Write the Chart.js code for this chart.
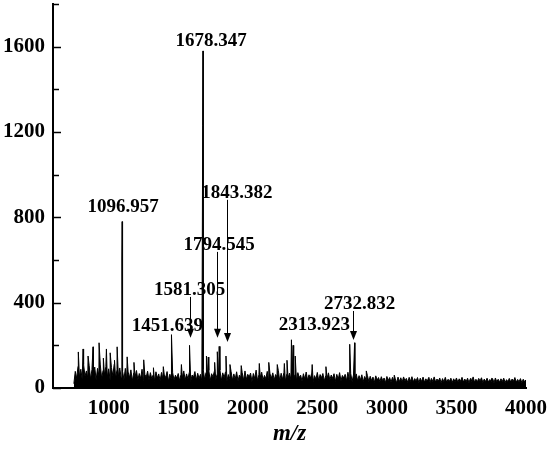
<!DOCTYPE html>
<html>
<head>
<meta charset="utf-8">
<script src="https://cdn.jsdelivr.net/npm/chart.js@4"></script>
<style>
  html, body { margin: 0; padding: 0; background: #fff; }
  #wrap { width: 550px; height: 454px; }
</style>
</head>
<body>
<div id="wrap"><canvas id="spectrum"></canvas></div>
<script>
// baseline noise, every 10 m/z from 750 to 4000
const noiseStartMz = 750;
const noiseStepMz = 10;
const noise = [
  // 750 - 1090
  20, 78, 45, 102, 52, 88, 40, 110, 55, 80,
  48, 105, 42, 86, 60, 98, 38, 92, 57, 108,
  44, 83, 62, 100, 50, 90, 41, 96, 58, 112,
  46, 85, 53, 94, 47,
  // 1100 - 1490
  78, 40, 92, 36, 75, 48, 85, 33, 70, 52,
  82, 38, 68, 45, 88, 34, 64, 50, 79, 37,
  72, 43, 62, 31, 76, 47, 66, 35, 73, 42,
  61, 49, 77, 32, 65, 44, 71, 39, 60, 46,
  // 1500 - 1890
  68, 34, 63, 47, 80, 38, 66, 42, 74, 31,
  61, 50, 77, 36, 69, 45, 64, 33, 86, 40,
  73, 48, 82, 35, 67, 52, 79, 39, 65, 44,
  84, 34, 71, 49, 75, 32, 63, 46, 78, 37,
  // 1900 - 2290
  66, 42, 76, 33, 61, 48, 72, 36, 80, 40,
  64, 51, 70, 31, 68, 45, 84, 35, 62, 49,
  74, 38, 59, 43, 78, 34, 66, 47, 71, 37,
  63, 52, 81, 34, 69, 41, 73, 32, 65, 46,
  // 2300 - 2690
  70, 39, 77, 44, 64, 34, 72, 49, 60, 32,
  67, 42, 75, 36, 62, 46, 70, 31, 58, 41,
  73, 35, 63, 48, 68, 33, 57, 43, 71, 38,
  61, 45, 67, 31, 64, 40, 72, 34, 59, 47,
  // 2700 - 3090
  64, 34, 74, 40, 68, 31, 61, 44, 66, 33,
  58, 38, 62, 29, 54, 40, 59, 31, 55, 35,
  51, 26, 57, 37, 49, 29, 53, 34, 47, 25,
  54, 35, 49, 27, 50, 32, 45, 24, 51, 30,
  // 3100 - 3490
  48, 28, 52, 34, 45, 26, 50, 31, 53, 29,
  44, 33, 49, 25, 46, 30, 51, 27, 43, 32,
  48, 26, 45, 31, 52, 28, 42, 33, 47, 24,
  44, 29, 50, 27, 41, 32, 46, 26, 43, 30,
  // 3500 - 4000
  47, 27, 43, 32, 50, 28, 42, 30, 46, 25,
  44, 31, 52, 27, 41, 29, 45, 33, 48, 26,
  42, 30, 46, 28, 40, 32, 44, 25, 47, 29,
  41, 27, 43, 31, 46, 26, 39, 30, 45, 28,
  42, 32, 49, 27, 40, 29, 44, 25, 41, 30, 38
];

// unlabelled spikes standing above the noise
const spikeMz = [
  782, 816, 852, 888, 931, 962, 984, 1011, 1042, 1061, 1095, 1133, 1182, 1252,
  1322, 1393, 1523, 1676, 1703, 1716, 1762, 1781, 1872, 1953, 2083, 2151, 2212,
  2263, 2282, 2326, 2341, 2463, 2562, 2768, 2852, 3053, 3302, 3604, 3752, 3903
];
const spikeIntensity = [
  169, 183, 150, 193, 212, 140, 183, 165, 130, 193, 600, 146, 120, 132,
  95, 100, 110, 1230, 150, 145, 120, 170, 110, 105, 115, 120, 110,
  115, 130, 200, 150, 110, 100, 212, 80, 60, 50, 45, 45, 42
];

// labelled peaks
const peakMz = [1096.957, 1451.639, 1581.305, 1678.347, 1794.545, 1843.382, 2313.923, 2732.832];
const peakIntensity = [780, 250, 200, 1580, 195, 150, 226, 205];
const peakLabels = ["1096.957", "1451.639", "1581.305", "1678.347", "1794.545", "1843.382", "2313.923", "2732.832"];

const xTickValues = [1000, 1500, 2000, 2500, 3000, 3500, 4000];
const yTickValues = [0, 400, 800, 1200, 1600];
const yMinorTicks = [200, 600, 1000, 1400, 1800];

// where each label sits: dx in px from the peak, y in intensity units,
// arrow = [from, to] in intensity units
const labelLayout = [
  { dx: 1, y: 849 },
  { dx: -4, y: 291 },
  { dx: 0, y: 460, arrow: [427, 235], arrowDx: 0 },
  { dx: 8, y: 1624 },
  { dx: 0, y: 671, arrow: [638, 235], arrowDx: -2 },
  { dx: 11, y: 915, arrow: [882, 216], arrowDx: 1 },
  { dx: 23, y: 296 },
  { dx: 10, y: 394, arrow: [361, 225], arrowDx: 3 }
];

// build the trace
const points = noise.map((v, i) => ({ x: noiseStartMz + i * noiseStepMz, y: v }));
spikeMz.forEach((m, i) => points.push({ x: m, y: spikeIntensity[i] }));
peakMz.forEach((m, i) => points.push({ x: m, y: peakIntensity[i] }));
points.sort((a, b) => a.x - b.x);

const serif = '"Liberation Serif", "Times New Roman", serif';

const peakMarks = {
  id: "peakMarks",
  afterDraw(chart) {
    const { ctx, chartArea, scales: { x, y } } = chart;
    ctx.save();
    ctx.strokeStyle = "#000";
    ctx.fillStyle = "#000";

    // y ticks pointing into the plot
    ctx.lineWidth = 1.5;
    const tick = (v, len) => {
      const py = Math.round(y.getPixelForValue(v)) + 0.5;
      ctx.beginPath();
      ctx.moveTo(chartArea.left, py);
      ctx.lineTo(chartArea.left + len, py);
      ctx.stroke();
    };
    yTickValues.forEach(v => tick(v, 8));
    yMinorTicks.forEach(v => tick(v, 6));

    // peak labels and arrows
    ctx.font = "bold 19px " + serif;
    ctx.textAlign = "center";
    ctx.textBaseline = "middle";
    ctx.lineWidth = 1;
    peakLabels.forEach((text, i) => {
      const L = labelLayout[i];
      const px = x.getPixelForValue(peakMz[i]);
      ctx.fillText(text, px + L.dx, y.getPixelForValue(L.y));
      if (L.arrow) {
        const ax = Math.round(px + L.arrowDx) + 0.5;
        const y0 = y.getPixelForValue(L.arrow[0]);
        const y1 = y.getPixelForValue(L.arrow[1]);
        ctx.beginPath();
        ctx.moveTo(ax, y0);
        ctx.lineTo(ax, y1 - 7);
        ctx.stroke();
        ctx.beginPath();
        ctx.moveTo(ax - 3.5, y1 - 9);
        ctx.lineTo(ax + 3.5, y1 - 9);
        ctx.lineTo(ax, y1);
        ctx.closePath();
        ctx.fill();
      }
    });
    ctx.restore();
  }
};

new Chart(document.getElementById("spectrum"), {
  type: "line",
  data: {
    datasets: [{
      data: points,
      borderColor: "#000",
      backgroundColor: "#000",
      borderWidth: 1,
      pointRadius: 0,
      tension: 0,
      fill: "origin"
    }]
  },
  options: {
    responsive: true,
    maintainAspectRatio: false,
    animation: false,
    parsing: false,
    layout: { padding: { top: 4, right: 24, left: 0, bottom: 0 } },
    plugins: { legend: { display: false }, tooltip: { enabled: false } },
    scales: {
      x: {
        type: "linear",
        min: 600,
        max: 4000,
        afterBuildTicks: s => { s.ticks = xTickValues.map(v => ({ value: v })); },
        afterFit: s => { s.height = 66; s.paddingLeft = 0; s.paddingRight = 0; },
        grid: { display: false, drawTicks: false },
        border: { color: "#000", width: 2 },
        ticks: {
          autoSkip: false,
          maxRotation: 0,
          padding: 8,
          color: "#000",
          font: { family: serif, size: 21, weight: "bold" },
          callback: v => String(v)
        },
        title: {
          display: true,
          text: "m/z",
          color: "#000",
          padding: { top: 0, bottom: 6 },
          font: { family: serif, size: 23, weight: "bold", style: "italic" }
        }
      },
      y: {
        min: 0,
        max: 1800,
        afterBuildTicks: s => { s.ticks = yTickValues.map(v => ({ value: v })); },
        afterFit: s => { s.width = 53; s.paddingTop = 0; s.paddingBottom = 0; },
        grid: { display: false, drawTicks: false },
        border: { color: "#000", width: 2 },
        ticks: {
          padding: 8,
          color: "#000",
          font: { family: serif, size: 21, weight: "bold" },
          callback: v => String(v)
        }
      }
    }
  },
  plugins: [peakMarks]
});
</script>
</body>
</html>
